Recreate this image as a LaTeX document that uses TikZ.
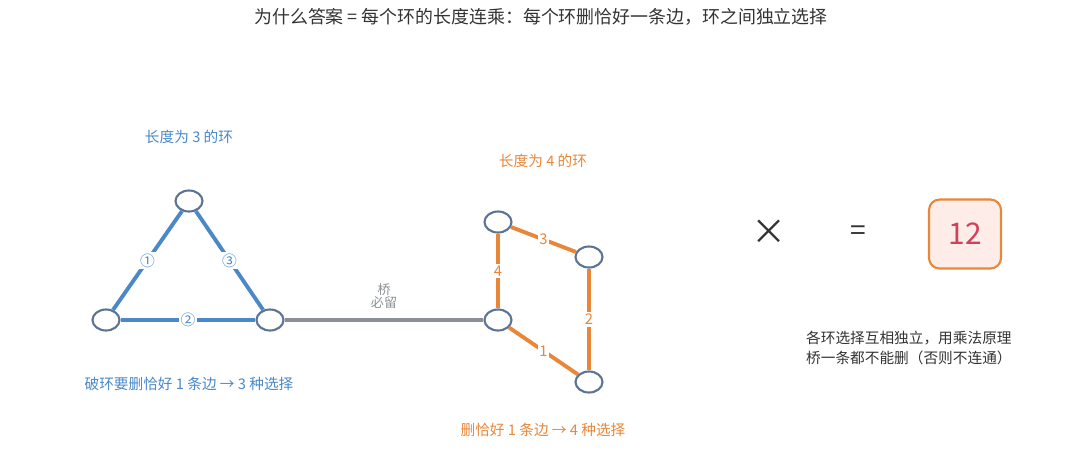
\documentclass[tikz,border=0pt]{standalone}
\usepackage{fontspec}
\setmainfont{Noto Sans CJK SC}
\usetikzlibrary{shapes, positioning}
\definecolor{ringblue}{HTML}{4A88C8}
\definecolor{ringorange}{HTML}{E8873A}
\definecolor{nodeedge}{HTML}{5B7396}
\definecolor{bridgegray}{HTML}{8A8E96}
\definecolor{textgray}{HTML}{333333}
\definecolor{answerred}{HTML}{D0405A}
\definecolor{answerfill}{HTML}{FDECE8}

\begin{document}
\begin{tikzpicture}[x=0.02cm, y=-0.02cm]
			\useasboundingbox (0,0) rectangle (1080,468);
			\tikzset{
				vert/.style={ellipse, draw=nodeedge, line width=1.2pt, fill=white, minimum width=0.54cm, minimum height=0.42cm, inner sep=0pt},
				blueedge/.style={draw=ringblue, line width=2.2pt},
				orangeedge/.style={draw=ringorange, line width=2.2pt},
				edgelabel/.style={fill=white, inner sep=1pt, font=\fontsize{8.4}{9}\selectfont},
				caption/.style={font=\fontsize{8.35}{10}\selectfont}
			}
			
			\node[textgray, font=\fontsize{10.2}{12}\selectfont] (title) at (541,17) {为什么答案 = 每个环的长度连乘：每个环删恰好一条边，环之间独立选择};
			
			% ring of length 3
			\node[vert] (T) at (189,201) {};
			\node[vert] (L) at (106,320) {};
			\node[vert] (R) at (270,320) {};
			\draw[blueedge] (L) -- node[edgelabel, text=ringblue] (e1) {①} (T);
			\draw[blueedge] (L) -- node[edgelabel, text=ringblue] (e2) {②} (R);
			\draw[blueedge] (T) -- node[edgelabel, text=ringblue] (e3) {③} (R);
			\node[caption, text=ringblue] (tritop) at (189,137) {长度为 3 的环};
			\node[caption, text=ringblue] (tribot) at (189,384) {破环要删恰好 1 条边 → 3 种选择};
			
			% ring of length 4
			\node[vert] (A) at (498,222) {};
			\node[vert] (B) at (589,257) {};
			\node[vert] (C) at (498,320) {};
			\node[vert] (D) at (589,382) {};
			\draw[orangeedge] (C) -- node[edgelabel, text=ringorange] (f1) {1} (D);
			\draw[orangeedge] (B) -- node[edgelabel, text=ringorange] (f2) {2} (D);
			\draw[orangeedge] (A) -- node[edgelabel, text=ringorange] (f3) {3} (B);
			\draw[orangeedge] (A) -- node[edgelabel, text=ringorange] (f4) {4} (C);
			\node[caption, text=ringorange] (sqtop) at (543,161) {长度为 4 的环};
			\node[caption, text=ringorange] (sqbot) at (543,430) {删恰好 1 条边 → 4 种选择};
			
			% bridge
			\draw[draw=bridgegray, line width=1.8pt] (R) -- (C);
			\node[text=bridgegray, align=center, font=\fontsize{7.4}{7.4}\selectfont] (bridge) at (384,296) {桥\\必留};
			
			% product
			\node[textgray, font=\fontsize{20}{22}\selectfont] (times) at (769,232) {×};
			\node[textgray, font=\fontsize{16}{18}\selectfont] (equals) at (858,233) {=};
			\node[draw=ringorange, line width=1.2pt, fill=answerfill, rounded corners=6pt, minimum width=1.44cm, minimum height=1.38cm, text=answerred, font=\fontsize{17}{19}\selectfont] (answer) at (965,234) {12};
			\node[caption, textgray, align=left, anchor=west, font=\fontsize{8.35}{11.9}\selectfont] (note) at (800,348) {各环选择互相独立，用乘法原理\\桥一条都不能删（否则不连通）};
		\end{tikzpicture}
\end{document}
